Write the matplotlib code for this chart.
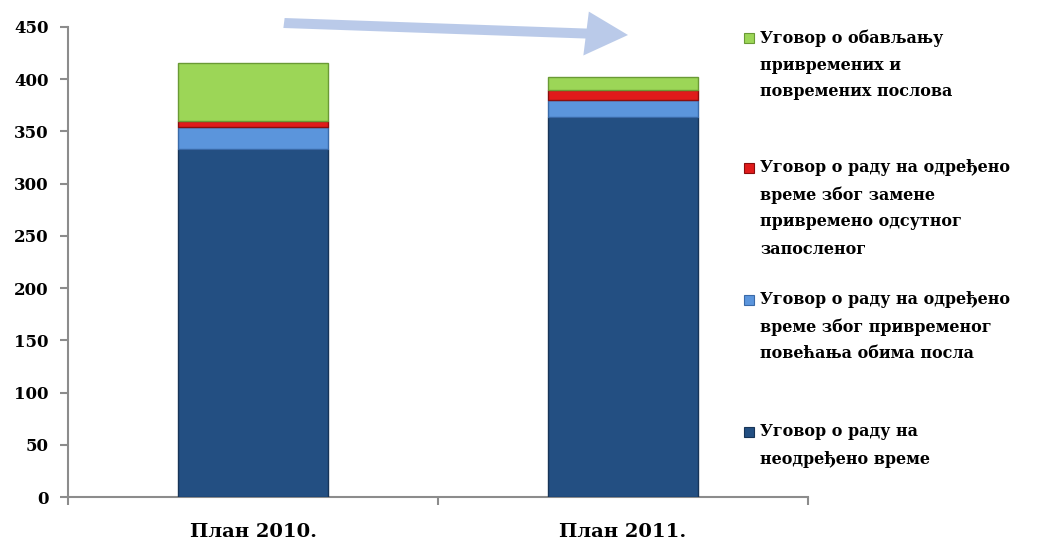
import matplotlib
matplotlib.use("Agg")
import matplotlib.pyplot as plt
from matplotlib.patches import Rectangle, FancyArrow
import numpy as np

categories = ["План 2010.", "План 2011."]
series_names = [
    "Уговор о раду на\nнеодређено време",
    "Уговор о раду на одређено\nвреме због привременог\nповећања обима посла",
    "Уговор о раду на одређено\nвреме због замене\nпривремено одсутног\nзапосленог",
    "Уговор о обављању\nпривремених и\nповремених послова",
]
neodredjeno = [333, 364]
povecanje = [21, 16]
zamena = [6, 10]
povremeni = [56, 12]
series_values = [neodredjeno, povecanje, zamena, povremeni]
colors = ["#234f82", "#5b95dc", "#e01b1b", "#9cd657"]
edges = ["#173457", "#3a6aa8", "#8a0d0d", "#6a9a35"]
yticks = list(range(0, 451, 50))

FONT = "DejaVu Serif"

fig = plt.figure(figsize=(10.4, 5.49), dpi=100)
ax = fig.add_axes([68/1040, 1-497/549, (808-68)/1040, (497-27)/549])

x = np.arange(len(categories))
bottom = np.zeros(len(categories))
bars = []
for vals, c, ec in zip(series_values, colors, edges):
    b = ax.bar(x, vals, width=0.405, bottom=bottom, color=c, edgecolor=ec, linewidth=1.0, zorder=3)
    bars.append(b)
    bottom += np.array(vals)

ax.set_xlim(-0.5, 1.5)
ax.set_ylim(0, 450)
ax.set_yticks(yticks)
ax.set_yticklabels([str(t) for t in yticks], fontfamily=FONT, fontweight="bold", fontsize=12)
ax.set_xticks([-0.5, 0.5, 1.5])
ax.set_xticklabels([])
ax.tick_params(axis="x", length=6, color="#8c8c8c", width=1.5, direction="out")
ax.tick_params(axis="y", length=6, color="#8c8c8c", width=1.5, direction="out", pad=8)
for i, cat in enumerate(categories):
    ax.text(i, -0.075, cat, transform=ax.get_xaxis_transform(), ha="center", va="center",
            fontfamily=FONT, fontweight="bold", fontsize=14)
for s in ["top", "right"]:
    ax.spines[s].set_visible(False)
for s in ["left", "bottom"]:
    ax.spines[s].set_color("#8c8c8c")
    ax.spines[s].set_linewidth(1.5)

# Arrow
fig.patches.append(FancyArrow(284/1040, 1-23/549, (628-284)/1040, -(35-23)/549,
                              width=10/549, head_width=44/549, head_length=42/1040,
                              length_includes_head=True, transform=fig.transFigure,
                              color="#b7c8e8", alpha=0.95, linewidth=0, figure=fig))

# Legend (manual)
tops = [38, 168, 300, 432]
order = [3, 2, 1, 0]
line_h = 27
for top, idx in zip(tops, order):
    fig.patches.append(Rectangle((744/1040, 1-(top+5)/549), 10/1040, 10/549,
                                 transform=fig.transFigure, facecolor=colors[idx],
                                 edgecolor=edges[idx], linewidth=0.8, figure=fig))
    for j, line in enumerate(series_names[idx].split("\n")):
        fig.text(760/1040, 1-(top + j*line_h)/549, line, ha="left", va="center",
                 fontfamily=FONT, fontweight="bold", fontsize=11.5)

fig.savefig("out.png", dpi=100)
